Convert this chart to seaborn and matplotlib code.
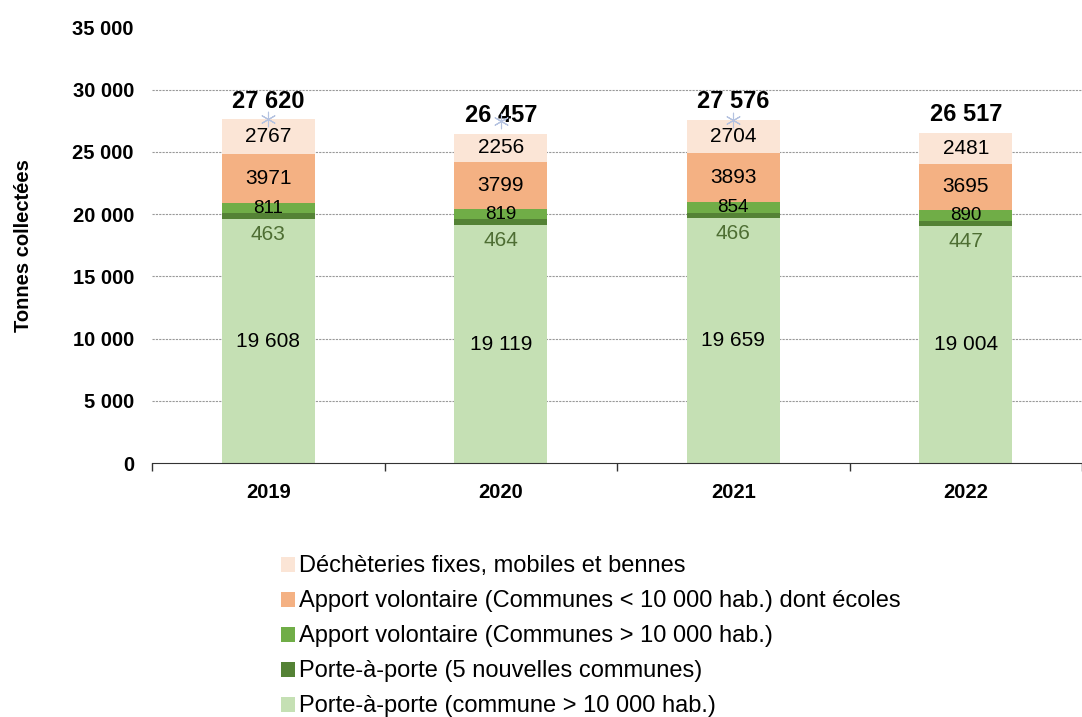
import numpy as np
import pandas as pd
from matplotlib import pyplot as plt
import seaborn as sns

years = ["2019", "2020", "2021", "2022"]
pap_commune = [19608, 19119, 19659, 19004]
pap_nouvelles = [463, 464, 466, 447]
av_grandes = [811, 819, 854, 890]
av_petites = [3971, 3799, 3893, 3695]
decheteries = [2767, 2256, 2704, 2481]
totals = [27620, 26457, 27576, 26517]
# stray marker series visible on the original chart (no point for 2022)
markers = [27620, 27500, 27576, np.nan]

series_names = [
    "Porte-à-porte (commune > 10 000 hab.)",
    "Porte-à-porte (5 nouvelles communes)",
    "Apport volontaire (Communes > 10 000 hab.)",
    "Apport volontaire (Communes < 10 000 hab.) dont écoles",
    "Déchèteries fixes, mobiles et bennes",
]
series_values = [pap_commune, pap_nouvelles, av_grandes, av_petites, decheteries]
colors = ["#C5E0B4", "#548235", "#70AD47", "#F4B183", "#FBE5D6"]

sns.set_style("white")
plt.rcParams["font.family"] = ["Liberation Sans", "DejaVu Sans"]
plt.rcParams.update({
    "text.color": "black",
    "axes.labelcolor": "black",
    "xtick.color": "black",
    "ytick.color": "black",
})


def fmt(v):
    return f"{v:,}".replace(",", " ")


fig = plt.figure(figsize=(10.82, 7.17), dpi=100)
ax = fig.add_axes([0.1405, 0.354, 0.8595, 0.608])

bottom = np.zeros(len(years))
for name, vals, col in zip(series_names, series_values, colors):
    df = pd.DataFrame({"year": years, "value": vals})
    sns.barplot(data=df, x="year", y="value", bottom=bottom.copy(), color=col,
                saturation=1.0, width=0.4, ax=ax, label=name, linewidth=0)
    bottom += np.array(vals)

# segment labels
for i in range(len(years)):
    base = 0
    for k, vals in enumerate(series_values):
        v = vals[i]
        if k == 1:
            # thin band: label sits just under it
            ax.annotate(str(v), (i, base), xytext=(0, -11), textcoords="offset points",
                        ha="center", va="center", fontsize=15, color="#4E6E33")
        elif k == 0:
            ax.text(i, base + v / 2, fmt(v), ha="center", va="center", fontsize=15)
        elif k == 2:
            ax.text(i, base + v / 2, str(v), ha="center", va="center", fontsize=13.5)
        else:
            ax.text(i, base + v / 2, str(v), ha="center", va="center", fontsize=15)
        base += v
    ax.annotate(fmt(totals[i]), (i, totals[i]), xytext=(0, 13), textcoords="offset points",
                ha="center", va="center", fontsize=17, fontweight="bold")

mk = pd.DataFrame({"year": years, "value": markers})
sns.scatterplot(data=mk, x="year", y="value", marker=(6, 2, 0), s=110,
                color="#B4C2E0", linewidth=0.8, ax=ax, zorder=5, legend=False)

ax.set_xlim(-0.5, 3.5)
ax.set_ylim(0, 35000)
ax.set_yticks(range(0, 35001, 5000))
ax.set_yticklabels([fmt(v) for v in range(0, 35001, 5000)], fontsize=14.5, fontweight="bold")
ax.yaxis.grid(True, linestyle=(0, (2, 1)), color="#999999", linewidth=0.8)
ax.set_axisbelow(True)
ax.yaxis.get_gridlines()[0].set_visible(False)
ax.yaxis.get_gridlines()[-1].set_visible(False)
ax.tick_params(axis="y", length=0, pad=13)

ax.set_xticks(range(len(years)))
ax.set_xticklabels(years, fontsize=14.5, fontweight="bold")
ax.set_xticks(np.arange(-0.5, 3.6, 1.0), minor=True)
ax.tick_params(axis="x", which="major", length=0, pad=14)
ax.tick_params(axis="x", which="minor", length=6, width=1, direction="out", color="#333333", bottom=True)

for side in ["left", "right", "top"]:
    ax.spines[side].set_visible(False)
ax.spines["bottom"].set_color("#333333")

ax.set_xlabel("")
ax.set_ylabel("Tonnes collectées", fontsize=14.5, fontweight="bold")
ax.yaxis.set_label_coords(-0.128, 0.5)

h, l = ax.get_legend_handles_labels()
ax.legend(h[::-1], l[::-1], loc="upper left", bbox_to_anchor=(0.128, -0.19),
          frameon=False, fontsize=17, handlelength=0.6, handleheight=0.6,
          handletextpad=0.2, labelspacing=0.55, borderaxespad=0)

plt.savefig("out.png", dpi=100)
